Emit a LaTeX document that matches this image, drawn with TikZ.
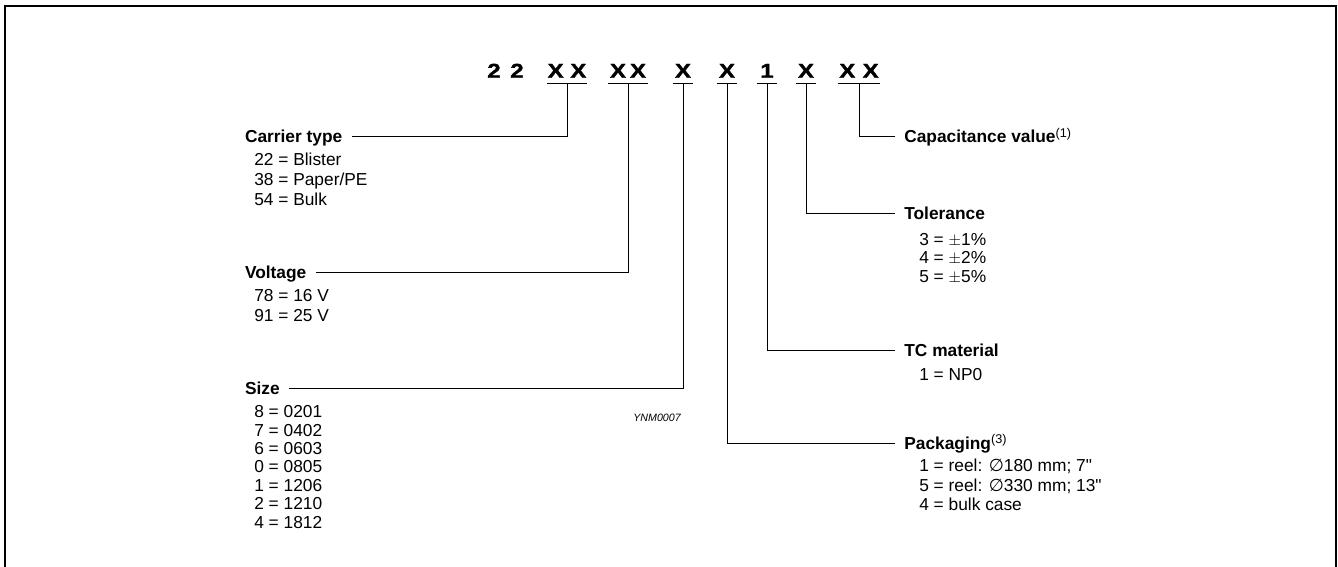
\documentclass[tikz,border=0pt]{standalone}
\usepackage{fontspec}
\usepackage{graphicx}
\setmainfont{Liberation Sans}
\newfontfamily\codefont[FakeBold=1.5]{Liberation Sans}
\newfontfamily\symbfont{DejaVu Sans}
\usetikzlibrary{positioning}
\newcommand{\inch}{{\addfontfeature{Ligatures=TeXOff}"}}
\newcommand{\note}[1]{\textsuperscript{\fontsize{9.5pt}{10pt}\selectfont\mdseries(#1)}}
\newcommand{\wide}[1]{\scalebox{1.2}[1]{#1}}

\begin{document}
\begin{tikzpicture}[x=0.75pt, y=-0.75pt,
    code/.style={font=\codefont\fontsize{15pt}{16pt}\selectfont\bfseries, inner sep=0pt, inner ysep=4.5pt, text height=10.5pt, text depth=0pt, anchor=south},
    head/.style={font=\fontsize{13pt}{15pt}\selectfont\bfseries, inner sep=0pt, outer xsep=7pt, text height=9.3pt, text depth=0pt, anchor=west},
    item/.style={font=\fontsize{13pt}{15pt}\selectfont, inner sep=0pt, anchor=base west},
    link/.style={line width=0.75pt},
    frame/.style={line width=1pt}
]
\useasboundingbox (0,0) rectangle (1338,567);

% Frame - open at the bottom
\draw[frame] (5,567) -- (5,6) -- (1336,6) -- (1336,567);

% Type number code
\node[code] (two1) at (494,84) {\wide{2}};
\node[code] (two2) at (517,84) {\wide{2}};
\node[code, minimum width=30pt] (carrier) at (567,84) {\wide{X}\hspace{5pt}\wide{X}};
\node[code, minimum width=30pt] (voltage) at (628,84) {\wide{X}\hspace{3pt}\wide{X}};
\node[code, minimum width=15pt] (size) at (683,84) {\wide{X}};
\node[code, minimum width=15pt] (pack) at (727,84) {\wide{X}};
\node[code, minimum width=15pt] (tcm) at (767,84) {\wide{1}};
\node[code, minimum width=15pt] (tol) at (806,84) {\wide{X}};
\node[code, minimum width=31.5pt] (cap) at (859,84) {\wide{X}\hspace{5.5pt}\wide{X}};

% Underlines
\foreach \n in {carrier,voltage,size,pack,tcm,tol,cap}
  \draw[link] (\n.south west) -- (\n.south east);

% Headings - left column
\node[head] (hcarrier) at (235.7,136) {Carrier type};
\node[head] (hvoltage) at (235.7,272) {Voltage};
\node[head] (hsize) at (235.7,388.5) {Size};

% Headings - right column
\node[head] (hcap) at (895,136.7) {Capacitance value\note{1}};
\node[head] (htol) at (895,213.3) {Tolerance};
\node[head] (htcm) at (895,350) {TC material};
\node[head] (hpack) at (895,443.3) {Packaging\note{3}};

% Leader lines
\draw[link] (carrier.south) |- (hcarrier.east);
\draw[link] (voltage.south) |- (hvoltage.east);
\draw[link] (size.south) |- (hsize.east);
\draw[link] (cap.south) |- (hcap.west);
\draw[link] (tol.south) |- (htol.west);
\draw[link] (tcm.south) |- (htcm.west);
\draw[link] (pack.south) |- (hpack.west);

% Code values
\foreach \t [count=\i] in {22 = Blister, 38 = Paper/PE, 54 = Bulk}
  \node[item] (carrier\i) at (254,{165+(\i-1)*20}) {\t};
\foreach \t [count=\i] in {78 = 16 V, 91 = 25 V}
  \node[item] (voltage\i) at (254,{301.7+(\i-1)*20}) {\t};
\foreach \t [count=\i] in {8 = 0201, 7 = 0402, 6 = 0603, 0 = 0805, 1 = 1206, 2 = 1210, 4 = 1812}
  \node[item] (size\i) at (254,{417.7+(\i-1)*18.4}) {\t};
\foreach \t [count=\i] in {3 = $\pm$1\%, 4 = $\pm$2\%, 5 = $\pm$5\%}
  \node[item] (tol\i) at (919,{245+(\i-1)*18.5}) {\t};
\node[item] (tcm1) at (919,380) {1 = NP0};
\node[item] (pack1) at (919,471.7) {1 = reel: {\symbfont ∅}180 mm; 7\inch};
\node[item] (pack2) at (919,491.7) {5 = reel: {\symbfont ∅}330 mm; 13\inch};
\node[item] (pack3) at (919,510) {4 = bulk case};

% Drawing reference
\node[font=\fontsize{8pt}{9pt}\selectfont\itshape, inner sep=0pt, anchor=base east] (ref) at (681,421) {YNM0007};

\end{tikzpicture}
\end{document}
